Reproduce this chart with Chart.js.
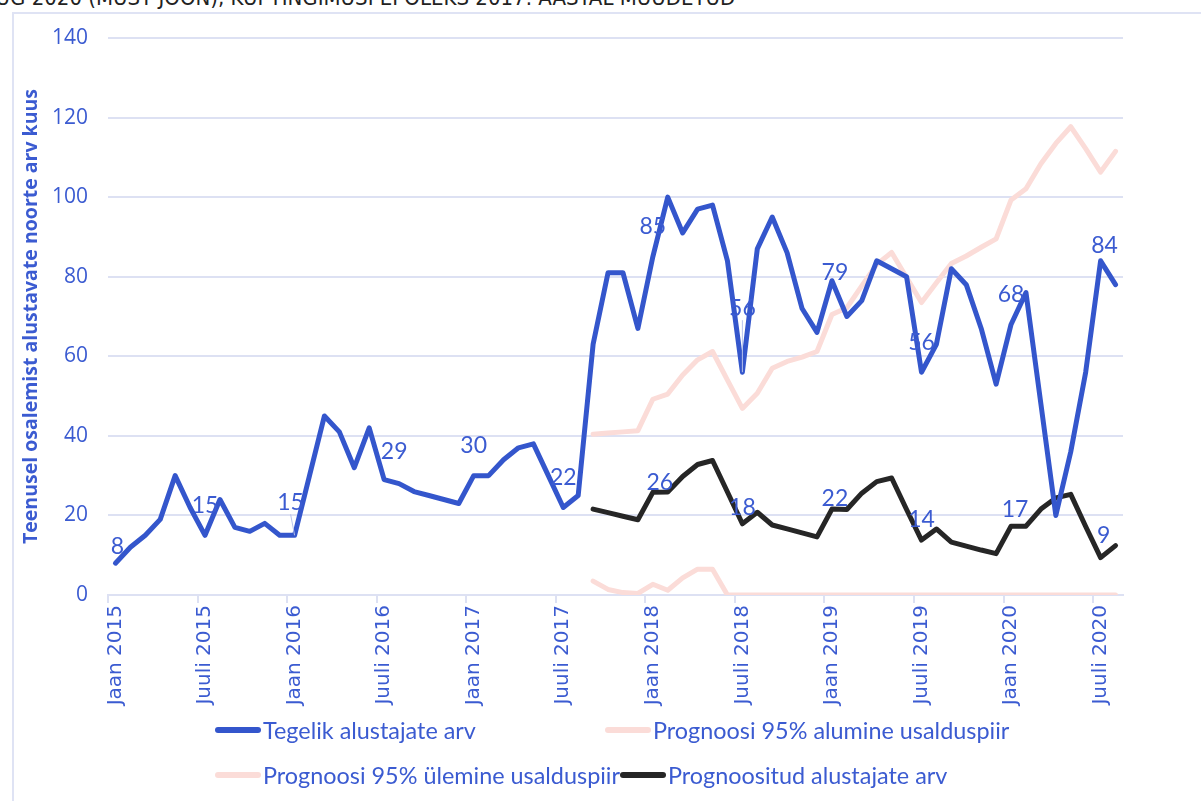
<!DOCTYPE html>
<html>
<head>
<meta charset="utf-8">
<script src="https://cdn.jsdelivr.net/npm/chart.js@4/dist/chart.umd.min.js"></script>
<style>
    html, body { margin: 0; padding: 0; background: #fff; overflow: hidden; }
    #wrap { position: relative; width: 1201px; height: 801px; overflow: hidden; }
    #frame { position: absolute; left: 12px; top: 12px; right: -5px; bottom: -5px;
             border-left: 2px solid #dfe3f4; border-top: 2px solid #dfe3f4; }
    #title { position: absolute; left: -18px; top: -15px; white-space: nowrap;
             font: 22px "Liberation Sans Narrow", "DejaVu Sans Condensed", sans-serif; color: #222; }
    #chart { position: absolute; left: 0; top: 0; }
    .leg { position: absolute; font: 23.4px Lato, "Open Sans", sans-serif; color: #3b5bd1;
           white-space: nowrap; display: flex; align-items: center; }
    .leg span.sw { display: inline-block; width: 46px; height: 6px; border-radius: 3px; margin-right: 2px; }
</style>
</head>
<body>
<div id="wrap">
    <div id="title">AUG 2020 (MUST JOON), KUI TINGIMUSI EI OLEKS 2017. AASTAL MUUDETUD</div>
    <div id="frame"></div>
    <canvas id="chart" width="1201" height="801"></canvas>
    <div id="legend"></div>
</div>
<script>
//! ==================== Data ====================
const monthNames = ["Jaan", "Veebr", "Märts", "Apr", "Mai", "Juuni", "Juuli", "Aug", "Sept", "Okt", "Nov", "Dets"];
const years = [2015, 2016, 2017, 2018, 2019, 2020];
const monthCount = 68; // jaan 2015 ... aug 2020

const categories = [];
for (let i = 0; i < monthCount; i++) {
    categories.push(monthNames[i % 12] + " " + years[Math.floor(i / 12)]);
}

const yTicks = [0, 20, 40, 60, 80, 100, 120, 140];

const seriesNames = [
    "Tegelik alustajate arv",
    "Prognoosi 95% alumine usalduspiir",
    "Prognoosi 95% ülemine usalduspiir",
    "Prognoositud alustajate arv"
];

// tegelik
const actual = [
    8, 12, 15, 19, 30, 22, 15, 24, 17, 16, 18, 15,
    15, 30, 45, 41, 32, 42, 29, 28, 26, 25, 24, 23,
    30, 30, 34, 37, 38, 30, 22, 25, 63, 81, 81, 67,
    85, 100, 91, 97, 98, 84, 56, 87, 95, 86, 72, 66,
    79, 70, 74, 84, 82, 80, 56, 63, 82, 78, 67, 53,
    68, 76, 48, 20, 36, 56, 84, 78
];

// prognoos algab mai 2017 (indeks 32)
const forecastStart = 32;
const forecast = [
    21.6, 20.7, 19.8, 18.9,
    25.8, 25.9, 29.8, 32.8, 33.8, 25.9, 17.9, 20.8, 17.6, 16.6, 15.6, 14.6,
    21.6, 21.5, 25.6, 28.5, 29.4, 21.5, 13.8, 16.6, 13.3, 12.3, 11.3, 10.4,
    17.3, 17.3, 21.6, 24.4, 25.3, 17.2, 9.4, 12.4
];
const lower = [
    3.5, 1.4, 0.6, 0.4,
    2.7, 1.2, 4.3, 6.5, 6.5, 0, 0, 0, 0, 0, 0, 0,
    0, 0, 0, 0, 0, 0, 0, 0, 0, 0, 0, 0,
    0, 0, 0, 0, 0, 0, 0, 0
];
const upper = [
    40.4, 40.7, 41.0, 41.3,
    49.2, 50.5, 55.3, 59.1, 61.2, 54.0, 46.9, 50.7, 57.0, 58.7, 59.8, 61.2,
    70.5, 72.2, 77.7, 83.1, 86.1, 79.8, 73.5, 78.5, 83.3, 85.2, 87.4, 89.5,
    99.3, 102.1, 108.4, 113.5, 117.7, 112.2, 106.3, 111.5
];

function pad(arr) {
    return new Array(forecastStart).fill(null).concat(arr);
}

//! ==================== Colors ====================
const blue = "#3456cc";
const textBlue = "#3b5bd1";
const pink = "#fbdcd8";
const black = "#262626";
const gridColor = "#dde1f3";

// sildi nihked (dx, dy) üksikutele punktidele
const labelShift = {
    0: { 0: [2, -17], 18: [10, -28], 42: [0, -64], 48: [3, -8], 66: [4, -15], 12: [-4, -33] },
    3: { 36: [7, -10], 42: [0, -16], 48: [3, -10], 54: [0, -21], 60: [4, -17], 66: [3, -22] }
};

const valueLabels = {
    id: "valueLabels",
    afterDatasetsDraw(chart) {
        const ctx = chart.ctx;
        ctx.save();
        ctx.font = "23px Lato, 'Open Sans', sans-serif";
        ctx.fillStyle = textBlue;
        ctx.textAlign = "center";
        ctx.textBaseline = "middle";
        [0, 3].forEach(di => {
            const meta = chart.getDatasetMeta(di);
            const data = chart.data.datasets[di].data;
            meta.data.forEach((pt, i) => {
                if (i % 6 !== 0 || data[i] == null) return;
                const sh = (labelShift[di] && labelShift[di][i]) || [0, di === 0 ? -30 : -16];
                const lx = pt.x + sh[0];
                const ly = pt.y + sh[1];
                if (sh[1] < -32 && di === 0) {
                    // juhtjoon
                    ctx.strokeStyle = "#b9c3ec";
                    ctx.lineWidth = 1;
                    ctx.beginPath();
                    ctx.moveTo(lx, ly + 12);
                    ctx.lineTo(pt.x, pt.y);
                    ctx.stroke();
                }
                ctx.fillText(String(Math.round(data[i])), lx, ly);
            });
        });
        ctx.restore();
    }
};

//! ==================== Chart ====================
const ctx = document.getElementById("chart").getContext("2d");

const chart = new Chart(ctx, {
    type: "line",
    data: {
        labels: categories,
        datasets: [
            { label: seriesNames[0], data: actual, borderColor: blue, borderWidth: 5, order: 0 },
            { label: seriesNames[1], data: pad(lower), borderColor: pink, borderWidth: 5, order: 2 },
            { label: seriesNames[2], data: pad(upper), borderColor: pink, borderWidth: 5, order: 2 },
            { label: seriesNames[3], data: pad(forecast), borderColor: black, borderWidth: 5, order: 1 }
        ]
    },
    options: {
        responsive: false,
        animation: false,
        devicePixelRatio: 1,
        layout: { padding: { left: 14, right: 78, top: 38, bottom: 94 } },
        elements: {
            point: { radius: 0 },
            line: { tension: 0, borderJoinStyle: "round", borderCapStyle: "round", fill: false }
        },
        plugins: {
            legend: { display: false },
            tooltip: { enabled: false }
        },
        scales: {
            x: {
                offset: true,
                grid: {
                    offset: true,
                    drawOnChartArea: false,
                    tickLength: 8,
                    lineWidth: 2,
                    color: c => (c.index % 6 === 0 ? gridColor : "rgba(0,0,0,0)")
                },
                border: { color: gridColor, width: 2 },
                ticks: {
                    autoSkip: false,
                    minRotation: 90,
                    maxRotation: 90,
                    padding: 2,
                    color: textBlue,
                    font: { family: "'DejaVu Sans'", size: 20 },
                    callback: (v, i) => (i % 6 === 0 ? categories[i] : "")
                },
                afterFit: s => { s.height = 112; }
            },
            y: {
                min: yTicks[0],
                max: yTicks[yTicks.length - 1],
                afterBuildTicks: s => { s.ticks = yTicks.map(v => ({ value: v })); },
                grid: { color: gridColor, lineWidth: 2, drawTicks: false },
                border: { display: false },
                ticks: {
                    padding: 20,
                    color: textBlue,
                    font: { family: "'Open Sans'", size: 21 }
                },
                title: {
                    display: true,
                    text: "Teenusel osalemist alustavate noorte arv kuus",
                    color: textBlue,
                    font: { family: "'Open Sans'", size: 19.5, weight: "bold" },
                    padding: { top: 6, bottom: 0 }
                },
                afterFit: s => { s.width = 94; }
            }
        }
    },
    plugins: [valueLabels]
});

//! ==================== Legend ====================
const legendPos = [[215, 716], [605, 716], [215, 761], [620, 761]];
const legendBox = document.getElementById("legend");
chart.data.datasets.forEach((ds, i) => {
    const item = document.createElement("div");
    item.className = "leg";
    item.style.left = legendPos[i][0] + "px";
    item.style.top = legendPos[i][1] + "px";
    item.innerHTML = '<span class="sw" style="background:' + ds.borderColor + '"></span>' + ds.label;
    legendBox.appendChild(item);
});
</script>
</body>
</html>
